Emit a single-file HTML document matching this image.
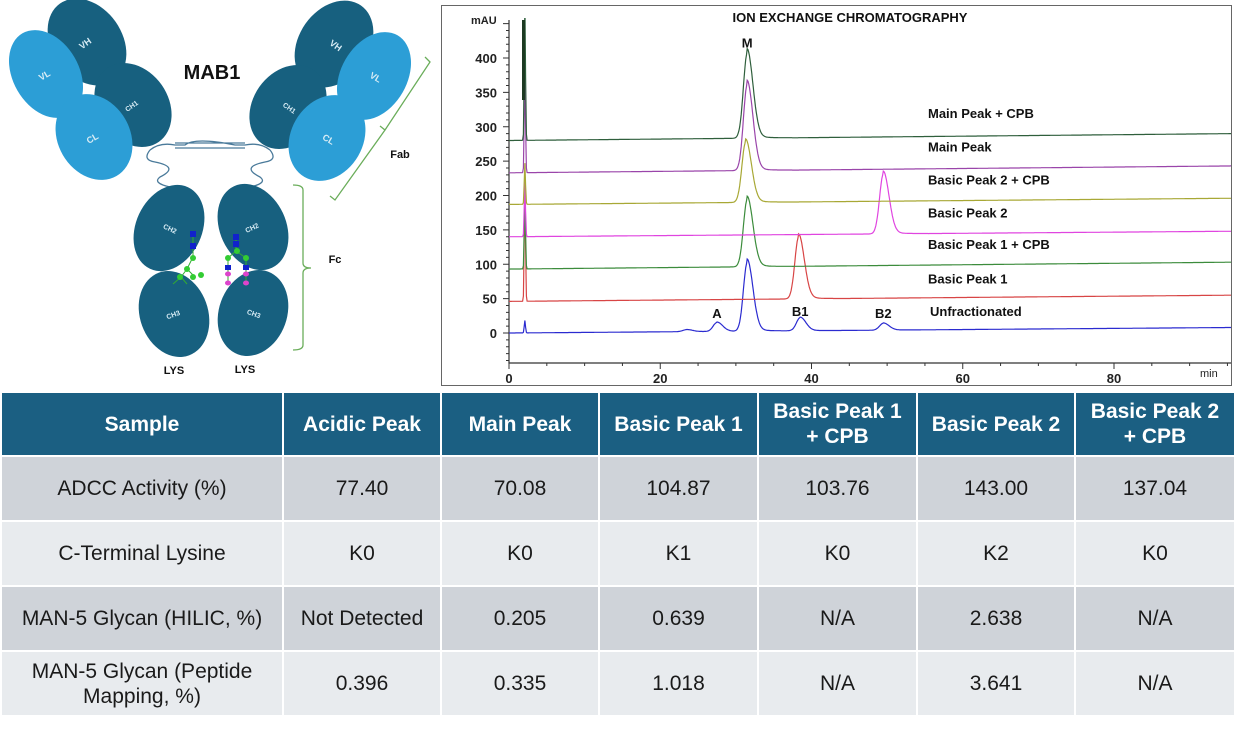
<!DOCTYPE html>
<html><head><meta charset="utf-8">
<style>
body{margin:0;width:1234px;height:732px;background:#fff;overflow:hidden;font-family:"Liberation Sans",sans-serif;position:relative}
svg{position:absolute;left:0;top:0}
table{position:absolute;left:0;top:391px;border-collapse:collapse;table-layout:fixed;width:1234px}
td,th{border:2px solid #fff;text-align:center;padding:0 2px;font-size:21px;line-height:25px;color:#1a1a1a}
th{background:#1b5f82;color:#fff;font-weight:bold;height:62px}
tr.r1 td{background:#cfd3d9;height:63px}
tr.r2 td{background:#e8ebee;height:63px}
</style></head><body>
<svg width="1234" height="392">
 <g font-family="Liberation Sans,sans-serif">
  <path d="M150,150 q10,-8 25,-5 l10,0 q10,-8 50,0 l10,0 q15,-3 25,5 M150,150 q-8,10 5,12 q25,5 5,15 q-8,6 10,10 M270,150 q8,10 -5,12 q-25,5 -5,15 q8,6 -10,10 M175,143 l70,0 M175,148 l70,0" stroke="#4a7a9a" stroke-width="1.3" fill="none"/>
  <g fill="#17607f">
   <ellipse cx="87" cy="42" rx="35" ry="47" transform="rotate(-35 87 42)"/>
   <ellipse cx="334" cy="44" rx="35" ry="47" transform="rotate(35 334 44)"/>
  </g>
  <g fill="#2c9ed6">
   <ellipse cx="46" cy="74" rx="33" ry="47" transform="rotate(-30 46 74)"/>
   <ellipse cx="374" cy="76" rx="33" ry="47" transform="rotate(30 374 76)"/>
  </g>
  <g fill="#17607f">
   <ellipse cx="133" cy="105" rx="35" ry="45" transform="rotate(-35 133 105)"/>
   <ellipse cx="288" cy="107" rx="35" ry="45" transform="rotate(35 288 107)"/>
  </g>
  <g fill="#2c9ed6">
   <ellipse cx="94" cy="137" rx="36" ry="45" transform="rotate(-30 94 137)"/>
   <ellipse cx="327" cy="138" rx="36" ry="45" transform="rotate(30 327 138)"/>
  </g>
  <g fill="#17607f">
   <ellipse cx="169" cy="228" rx="33" ry="45" transform="rotate(25 169 228)"/>
   <ellipse cx="253" cy="227" rx="33" ry="45" transform="rotate(-25 253 227)"/>
   <ellipse cx="174" cy="314" rx="34" ry="44" transform="rotate(-20 174 314)"/>
   <ellipse cx="253" cy="313" rx="34" ry="44" transform="rotate(20 253 313)"/>
  </g>
  <g fill="#d8ecf5" font-size="9" font-weight="bold" text-anchor="middle">
   <text x="87" y="46" transform="rotate(-35 87 46)">VH</text>
   <text x="334" y="48" transform="rotate(35 334 48)">VH</text>
   <text x="46" y="78" transform="rotate(-30 46 78)">VL</text>
   <text x="374" y="80" transform="rotate(30 374 80)">VL</text>
   <text x="133" y="108" transform="rotate(-35 133 108)" font-size="7">CH1</text>
   <text x="288" y="110" transform="rotate(35 288 110)" font-size="7">CH1</text>
   <text x="94" y="141" transform="rotate(-30 94 141)">CL</text>
   <text x="327" y="142" transform="rotate(30 327 142)">CL</text>
   <text x="169" y="231" transform="rotate(25 169 231)" font-size="7">CH2</text>
   <text x="253" y="230" transform="rotate(-25 253 230)" font-size="7">CH2</text>
   <text x="174" y="317" transform="rotate(-20 174 317)" font-size="7">CH3</text>
   <text x="253" y="316" transform="rotate(20 253 316)" font-size="7">CH3</text>
  </g>
  <g>
   <path d="M193,235 v22 l-6,12 l-6,8 M187,269 l6,6 M181,277 l-8,7 M181,277 l6,7 M236,235 v16 l-8,7 v16 v10 M236,251 l10,7 v16 v10" stroke="#3a3" fill="none"/>
   <rect x="190" y="231" width="6" height="6" fill="#12c"/><rect x="190" y="243" width="6" height="6" fill="#12c"/>
   <rect x="233" y="234" width="6" height="6" fill="#12c"/><rect x="233" y="241" width="6" height="6" fill="#12c"/>
   <rect x="225" y="265" width="6" height="5" fill="#12c"/><rect x="243" y="265" width="6" height="5" fill="#12c"/>
   <g fill="#3c3"><circle cx="193" cy="258" r="3"/><circle cx="187" cy="269" r="3"/><circle cx="201" cy="275" r="3"/><circle cx="180" cy="277" r="3"/><circle cx="193" cy="277" r="3"/><circle cx="237" cy="251" r="3"/><circle cx="228" cy="258" r="3"/><circle cx="246" cy="258" r="3"/></g>
   <g fill="#d4c"><ellipse cx="228" cy="274" rx="3" ry="2.5"/><ellipse cx="228" cy="283" rx="3" ry="2.5"/><ellipse cx="246" cy="274" rx="3" ry="2.5"/><ellipse cx="246" cy="283" rx="3" ry="2.5"/></g>
  </g>
  <path d="M425,57 l5,5 l-45,68 l-5,-4 l5,4 l-50,70 l-5,-4 M293,185 q10,0 10,5 v73 q0,5 8,5 q-8,0 -8,5 v72 q0,5 -10,5" stroke="#6aad5a" stroke-width="1.3" fill="none"/>
  <text x="212" y="79" font-size="20" font-weight="bold" text-anchor="middle" fill="#111">MAB1</text>
  <text x="400" y="158" font-size="11" font-weight="bold" text-anchor="middle" fill="#111">Fab</text>
  <text x="335" y="263" font-size="11" font-weight="bold" text-anchor="middle" fill="#111">Fc</text>
  <text x="174" y="374" font-size="11" font-weight="bold" text-anchor="middle" fill="#111">LYS</text>
  <text x="245" y="373" font-size="11" font-weight="bold" text-anchor="middle" fill="#111">LYS</text>
 </g>
 <rect x="441.5" y="5.5" width="790" height="380" fill="#fff" stroke="#666"/>
 <g id="chart" font-family="Liberation Sans Narrow,Liberation Sans,sans-serif"></g>
</svg>
<table>
<colgroup><col style="width:282px"><col style="width:158px"><col style="width:158px"><col style="width:159px"><col style="width:159px"><col style="width:158px"><col style="width:160px"></colgroup>
<tr><th>Sample</th><th>Acidic Peak</th><th>Main Peak</th><th>Basic Peak 1</th><th>Basic Peak 1<br>+ CPB</th><th>Basic Peak 2</th><th>Basic Peak 2<br>+ CPB</th></tr>
<tr class="r1"><td>ADCC Activity (%)</td><td>77.40</td><td>70.08</td><td>104.87</td><td>103.76</td><td>143.00</td><td>137.04</td></tr>
<tr class="r2"><td>C-Terminal Lysine</td><td>K0</td><td>K0</td><td>K1</td><td>K0</td><td>K2</td><td>K0</td></tr>
<tr class="r1"><td>MAN-5 Glycan (HILIC, %)</td><td>Not Detected</td><td>0.205</td><td>0.639</td><td>N/A</td><td>2.638</td><td>N/A</td></tr>
<tr class="r2"><td>MAN-5 Glycan (Peptide Mapping, %)</td><td>0.396</td><td>0.335</td><td>1.018</td><td>N/A</td><td>3.641</td><td>N/A</td></tr>
</table>
<script>
const seriesNames=['Unfractionated','Basic Peak 1','Basic Peak 1 + CPB','Basic Peak 2','Basic Peak 2 + CPB','Main Peak','Main Peak + CPB'];
const seriesColors=['#2b2bd0','#d84545','#3c8c3c','#e045e0','#a8a835','#9a45aa','#2f5f3c'];
const baseStart=[0,46,93,140,187,233,280];
const baseEnd=[8,55,103,148,196,243,290];
const peakTimes=[[23.5,27.5,31.5,38.5,49.5],[38.3],[31.5],[49.5],[31.3],[31.5],[31.5]];
const peakHeights=[[3,13,100,19,10],[90],[98],[87],[88],[125],[124]];
const spikeHeights=[18,170,110,80,60,150,200];
const yTicks=[0,50,100,150,200,250,300,350,400];
const xTicks=[0,20,40,60,80];
const peakLetters=['A','M','B1','B2'];
const peakLetterTimes=[27.5,31.5,38.5,49.5];
const peakLetterVals=[22,415,25,22];
const labelVals=[25,72,122,168,216,264,313];

const NS='http://www.w3.org/2000/svg';
const g=document.getElementById('chart');
const X=t=>509+t*7.5625, Y=v=>333-v*0.6875;
function mk(tag,at,txt){const e=document.createElementNS(NS,tag);for(const k in at)e.setAttribute(k,at[k]);if(txt!=null)e.textContent=txt;g.appendChild(e);return e;}
const clip=document.createElementNS(NS,'clipPath');clip.setAttribute('id','pc');
const cr=document.createElementNS(NS,'rect');cr.setAttribute('x',505);cr.setAttribute('y',18);cr.setAttribute('width',726);cr.setAttribute('height',345);clip.appendChild(cr);g.appendChild(clip);
let ax=mk('path',{d:`M509,20V363H1231`,stroke:'#333',fill:'none','stroke-width':1.2});


let td='';
for(let v=-40;v<=460;v+=10){const y=Y(v);if(y<22||y>363)continue;td+=`M${v%50==0?503:506},${y}H509`;}
for(let t=0;t<=95;t+=5){td+=`M${X(t)},363V${t%20==0?369:366}`;}
mk('path',{d:td,stroke:'#333','stroke-width':1});
yTicks.forEach(v=>{const e=mk('text',{x:497,y:Y(v)+5,'text-anchor':'end','font-size':13,'font-weight':'bold',fill:'#222'},v);

});
xTicks.forEach(t=>{const e=mk('text',{x:X(t),y:383,'text-anchor':'middle','font-size':13,'font-weight':'bold',fill:'#222'},t);

});
mk('text',{x:471,y:24,'font-size':11,'font-weight':'bold',fill:'#222'},'mAU');
mk('text',{x:1200,y:377,'font-size':11,fill:'#222'},'min');
let tt=mk('text',{x:850,y:22,'text-anchor':'middle','font-size':13,'font-weight':'bold',fill:'#111'},'ION EXCHANGE CHROMATOGRAPHY');


for(let s=0;s<seriesNames.length;s++){
 let d='';
 for(let t=0;t<=95.5;t+=0.1){
  let v=baseStart[s]+(baseEnd[s]-baseStart[s])*t/95.5;
  peakTimes[s].forEach((pt,i)=>{const dt=t-pt;const sg=dt<0?0.5:0.75;v+=peakHeights[s][i]*Math.exp(-dt*dt/(2*sg*sg));if(dt>0&&dt<6)v+=peakHeights[s][i]*0.05*Math.exp(-dt/1.5);});
  const ds=t-2.1;v+=spikeHeights[s]*Math.exp(-ds*ds/(2*0.08*0.08));
  d+=(d?'L':'M')+X(t).toFixed(1)+','+Y(v).toFixed(1);
 }
 const p=mk('path',{d:d,stroke:seriesColors[s],fill:'none','stroke-width':1.2,'clip-path':'url(#pc)'});
 
 
 const l=mk('text',{x:s==0?930:928,y:Y(labelVals[s]),'font-size':13,'font-weight':'bold',fill:'#111'},seriesNames[s]);
 
 
}
mk('rect',{x:522,y:20,width:3,height:80,fill:'#1d3a22'});
peakLetters.forEach((L,i)=>{const e=mk('text',{x:X(peakLetterTimes[i]),y:Y(peakLetterVals[i]),'text-anchor':'middle','font-size':13,'font-weight':'bold',fill:'#111'},L);

});
</script>
</body></html>
